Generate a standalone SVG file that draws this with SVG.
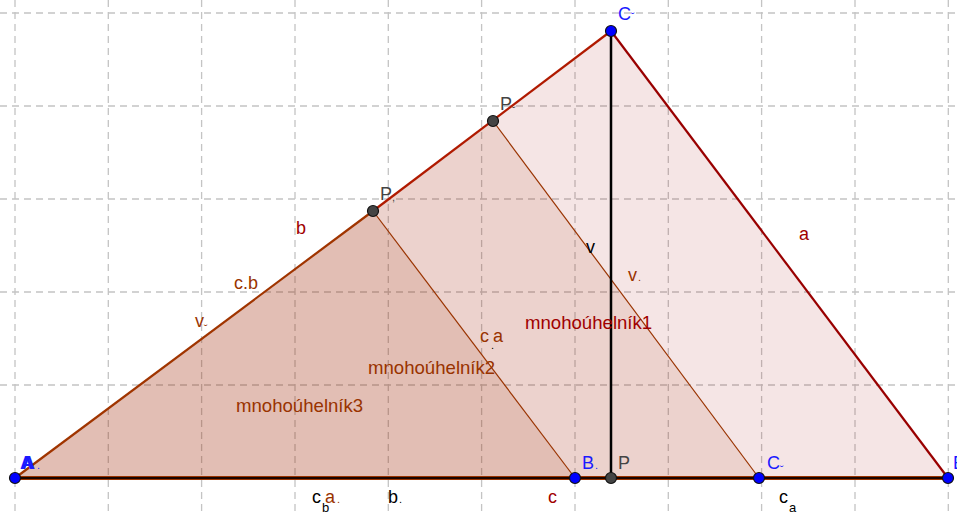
<svg xmlns="http://www.w3.org/2000/svg" width="957" height="514" viewBox="0 0 957 514">
<style>
.grid line{stroke:#c4c4c4;stroke-width:1.3;stroke-dasharray:7,5}
text{font-family:"Liberation Sans",Arial,sans-serif;font-size:18px}
.blue{fill:#1a1aff}
.red{fill:#a00000}
.brown{fill:#993300}
.blk{fill:#000}
.gray{fill:#444}
.sm{font-size:11px}
.sub{font-size:13px}
.big{font-size:18.6px}
.pt{stroke:#111;stroke-width:1.2}
</style>
<rect width="957" height="514" fill="#fff"/>
<g class="grid">
<line x1="15" y1="0" x2="15" y2="514"/>
<line x1="108.3" y1="0" x2="108.3" y2="514"/>
<line x1="201.6" y1="0" x2="201.6" y2="514"/>
<line x1="295" y1="0" x2="295" y2="514"/>
<line x1="388.3" y1="0" x2="388.3" y2="514"/>
<line x1="481.6" y1="0" x2="481.6" y2="514"/>
<line x1="575" y1="0" x2="575" y2="514"/>
<line x1="668.3" y1="0" x2="668.3" y2="514"/>
<line x1="761.6" y1="0" x2="761.6" y2="514"/>
<line x1="855" y1="0" x2="855" y2="514"/>
<line x1="948.3" y1="0" x2="948.3" y2="514"/>
<line x1="0" y1="13" x2="957" y2="13"/>
<line x1="0" y1="106" x2="957" y2="106"/>
<line x1="0" y1="199" x2="957" y2="199"/>
<line x1="0" y1="292" x2="957" y2="292"/>
<line x1="0" y1="385" x2="957" y2="385"/>
</g>
<g id="mnohouhelnik1">
<polygon points="15,478 948,478 611,31" fill="#990000" fill-opacity="0.1"/>
</g>
<g id="mnohouhelnik2">
<polygon points="15,478 759,478 493,121" fill="#993300" fill-opacity="0.1"/>
</g>
<g id="mnohouhelnik3">
<polygon points="15,478 575,478 373,211" fill="#993300" fill-opacity="0.12"/>
</g>
<g id="connectors" fill="none">
<line x1="611" y1="31" x2="948" y2="478" stroke="#990000" stroke-width="2.2"/>
<line x1="373" y1="211" x2="611" y2="31" stroke="#b01a00" stroke-width="2.2"/>
<line x1="15" y1="478" x2="373" y2="211" stroke="#a03500" stroke-width="2.2"/>
<line x1="493" y1="121" x2="759" y2="478" stroke="#993300" stroke-width="1.2"/>
<line x1="373" y1="211" x2="575" y2="478" stroke="#993300" stroke-width="1.2"/>
<line x1="15" y1="478" x2="948" y2="478" stroke="#993300" stroke-width="4"/>
<line x1="15" y1="478" x2="948" y2="478" stroke="#1a0500" stroke-width="2"/>
<line x1="611" y1="31" x2="611" y2="478" stroke="#000" stroke-width="2.5"/>
</g>
<g id="A"><circle class="pt" cx="15" cy="478" r="5.5" fill="#0000ff"/>
<text x="20" y="469" class="blue" font-weight="bold">A</text><text x="22" y="469" class="blue" font-weight="bold">A</text><text x="37" y="469" class="blue sm">.</text></g>
<g id="B"><circle class="pt" cx="575" cy="478" r="5.5" fill="#0000ff"/>
<text x="582" y="469" class="blue">B</text><text x="595" y="469" class="blue sm">.</text></g>
<g id="P"><circle class="pt" cx="611" cy="478" r="5.5" fill="#444"/>
<text x="618" y="469" class="gray">P</text></g>
<g id="C2"><circle class="pt" cx="759" cy="478" r="5.5" fill="#0000ff"/>
<text x="767" y="469" class="blue">C</text><text x="780" y="473" class="blue sm">˘</text></g>
<g id="B2"><circle class="pt" cx="948" cy="478" r="5.5" fill="#0000ff"/>
<text x="953" y="469" class="blue">B</text></g>
<g id="C"><circle class="pt" cx="611" cy="31" r="5.5" fill="#0000ff"/>
<text x="618" y="20" class="blue">C</text><text x="631" y="20" class="blue sm">˘</text></g>
<g id="P1"><circle class="pt" cx="373" cy="211" r="5.5" fill="#444"/>
<text x="380" y="200" class="gray">P</text><text x="392" y="201" class="gray sm">,</text></g>
<g id="P2"><circle class="pt" cx="493" cy="121" r="5.5" fill="#444"/>
<text x="500" y="110" class="gray">P</text><text x="512" y="114" class="gray sm">˘</text></g>
<g id="labels">
<text x="296" y="234" class="red">b</text>
<text x="234" y="289" class="brown">c.b</text>
<text x="195" y="327" class="brown">v</text><text x="204" y="332" class="brown sm">˘</text>
<text x="799" y="240" class="red">a</text>
<text x="586" y="253" class="blk">v</text>
<text x="628" y="281" class="brown">v</text><text x="638" y="281" class="brown sm">.</text>
<text x="525" y="329" class="red big">mnohoúhelník1</text>
<text x="480" y="342" class="brown">c</text><text x="493" y="342" class="brown">a</text><text x="491" y="349" class="blk sm">.</text>
<text x="368" y="374" class="brown big">mnohoúhelník2</text>
<text x="236" y="412" class="brown big">mnohoúhelník3</text>
<text x="548" y="503" class="red">c</text>
<text x="312" y="503" class="blk">c</text><text x="322" y="512" class="blk sub">b</text>
<text x="325" y="503" class="brown">a</text><text x="337" y="503" class="brown sm">.</text>
<text x="388" y="503" class="blk">b</text><text x="399" y="503" class="blk sm">.</text>
<text x="779" y="503" class="blk">c</text><text x="789" y="512" class="blk sub">a</text>
</g>
</svg>
